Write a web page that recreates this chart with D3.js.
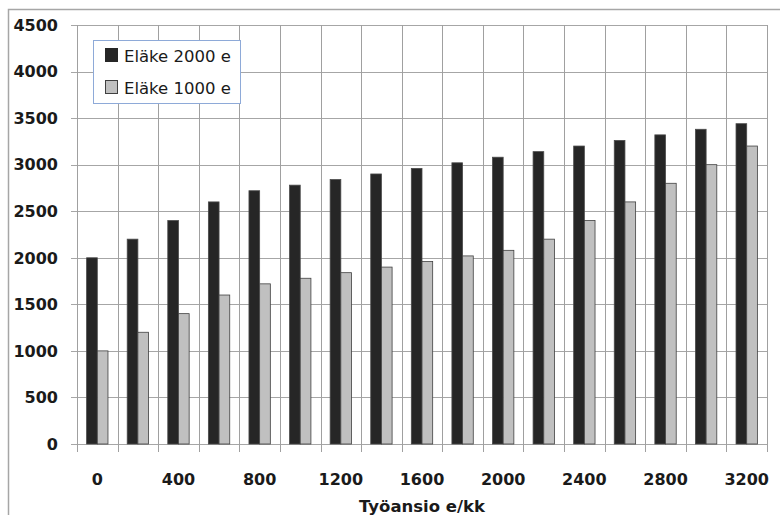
<!DOCTYPE html>
<html><head><meta charset="utf-8">
<script src="https://cdn.jsdelivr.net/npm/d3@7"></script>
<style>body{margin:0;background:#fff}svg{display:block}</style>
</head><body>
<svg id="c" width="780" height="515"></svg>
<script>
const categories = [0,200,400,600,800,1000,1200,1400,1600,1800,2000,2200,2400,2600,2800,3000,3200];
const seriesNames = ["Eläke 2000 e","Eläke 1000 e"];
const elake2000 = [2000,2200,2400,2600,2720,2780,2840,2900,2960,3020,3080,3140,3200,3260,3320,3380,3440];
const elake1000 = [1000,1200,1400,1600,1720,1780,1840,1900,1960,2020,2080,2200,2400,2600,2800,3000,3200];
const yTicks = [0,500,1000,1500,2000,2500,3000,3500,4000,4500];
const xTickLabels = [0,400,800,1200,1600,2000,2400,2800,3200];
const xTitle = "Työansio e/kk";
const colors = ["#262626","#c0c0c0"];

const svg = d3.select("#c");
const m = {l:77,r:767,t:25,b:444};

// outer chart border (only top/left visible)
svg.append("rect").attr("x",8.5).attr("y",9.5).attr("width",900).attr("height",700)
  .attr("fill","none").attr("stroke","#a6a6a6").attr("stroke-width",1.5);

const x = d3.scaleBand().domain(categories).range([m.l,m.r]).paddingInner(0).paddingOuter(0);
const xs = d3.scaleBand().domain([0,1]).range([0,x.bandwidth()]).paddingInner(0).paddingOuter(0.9);
const y = d3.scaleLinear().domain([0,4500]).range([m.b,m.t]);

// horizontal gridlines
svg.append("g").selectAll("line").data(yTicks).join("line")
  .attr("x1",m.l).attr("x2",m.r)
  .attr("y1",d=>Math.round(y(d))+0.5).attr("y2",d=>Math.round(y(d))+0.5)
  .attr("stroke","#a6a6a6").attr("stroke-width",1);
// vertical gridlines at category boundaries
const bounds = categories.map(c=>x(c)).concat([m.r]);
svg.append("g").selectAll("line").data(bounds).join("line")
  .attr("x1",d=>Math.round(d)+0.5).attr("x2",d=>Math.round(d)+0.5)
  .attr("y1",m.t).attr("y2",m.b+8)
  .attr("stroke","#a0a0a0").attr("stroke-width",1);
// y axis ticks
svg.append("g").selectAll("line").data(yTicks).join("line")
  .attr("x1",m.l-6).attr("x2",m.l)
  .attr("y1",d=>Math.round(y(d))+0.5).attr("y2",d=>Math.round(y(d))+0.5)
  .attr("stroke","#a6a6a6");

// bars
const series = [elake2000, elake1000];
series.forEach((vals,si)=>{
  svg.append("g").selectAll("rect").data(vals).join("rect")
    .attr("x",(d,i)=>x(categories[i])+xs(si))
    .attr("width",xs.bandwidth())
    .attr("y",d=>y(d))
    .attr("height",d=>y(0)-y(d))
    .attr("fill",colors[si])
    .attr("stroke",si===0?"#4a4a4a":"#404040").attr("stroke-width",0.8);
});

// y labels
svg.append("g").selectAll("text").data(yTicks).join("text")
  .attr("x",58).attr("y",d=>y(d)).attr("dy","0.36em")
  .attr("text-anchor","end")
  .attr("font-family","DejaVu Sans").attr("font-weight","bold").attr("font-size",16)
  .attr("fill","#1a1a1a").text(d=>d);
// x labels
svg.append("g").selectAll("text").data(xTickLabels).join("text")
  .attr("x",d=>x(d)+x.bandwidth()/2).attr("y",485)
  .attr("text-anchor","middle")
  .attr("font-family","DejaVu Sans").attr("font-weight","bold").attr("font-size",16)
  .attr("fill","#1a1a1a").text(d=>d);
// x title
svg.append("text").attr("x",(m.l+m.r)/2).attr("y",512)
  .attr("text-anchor","middle")
  .attr("font-family","DejaVu Sans").attr("font-weight","bold").attr("font-size",16.5)
  .attr("fill","#1a1a1a").text(xTitle);

// legend
const lg = svg.append("g");
lg.append("rect").attr("x",93.5).attr("y",40.5).attr("width",147).attr("height",63)
  .attr("fill","#fff").attr("stroke","#8eaad8").attr("stroke-width",1);
seriesNames.forEach((n,i)=>{
  lg.append("rect").attr("x",105.5).attr("y",48.5+i*32).attr("width",12).attr("height",13)
    .attr("fill",colors[i]).attr("stroke",i===0?"#262626":"#404040").attr("stroke-width",1);
  lg.append("text").attr("x",124).attr("y",62+i*32)
    .attr("font-family","DejaVu Sans").attr("font-size",16.5).attr("fill","#1a1a1a").text(n);
});
</script>
</body></html>
